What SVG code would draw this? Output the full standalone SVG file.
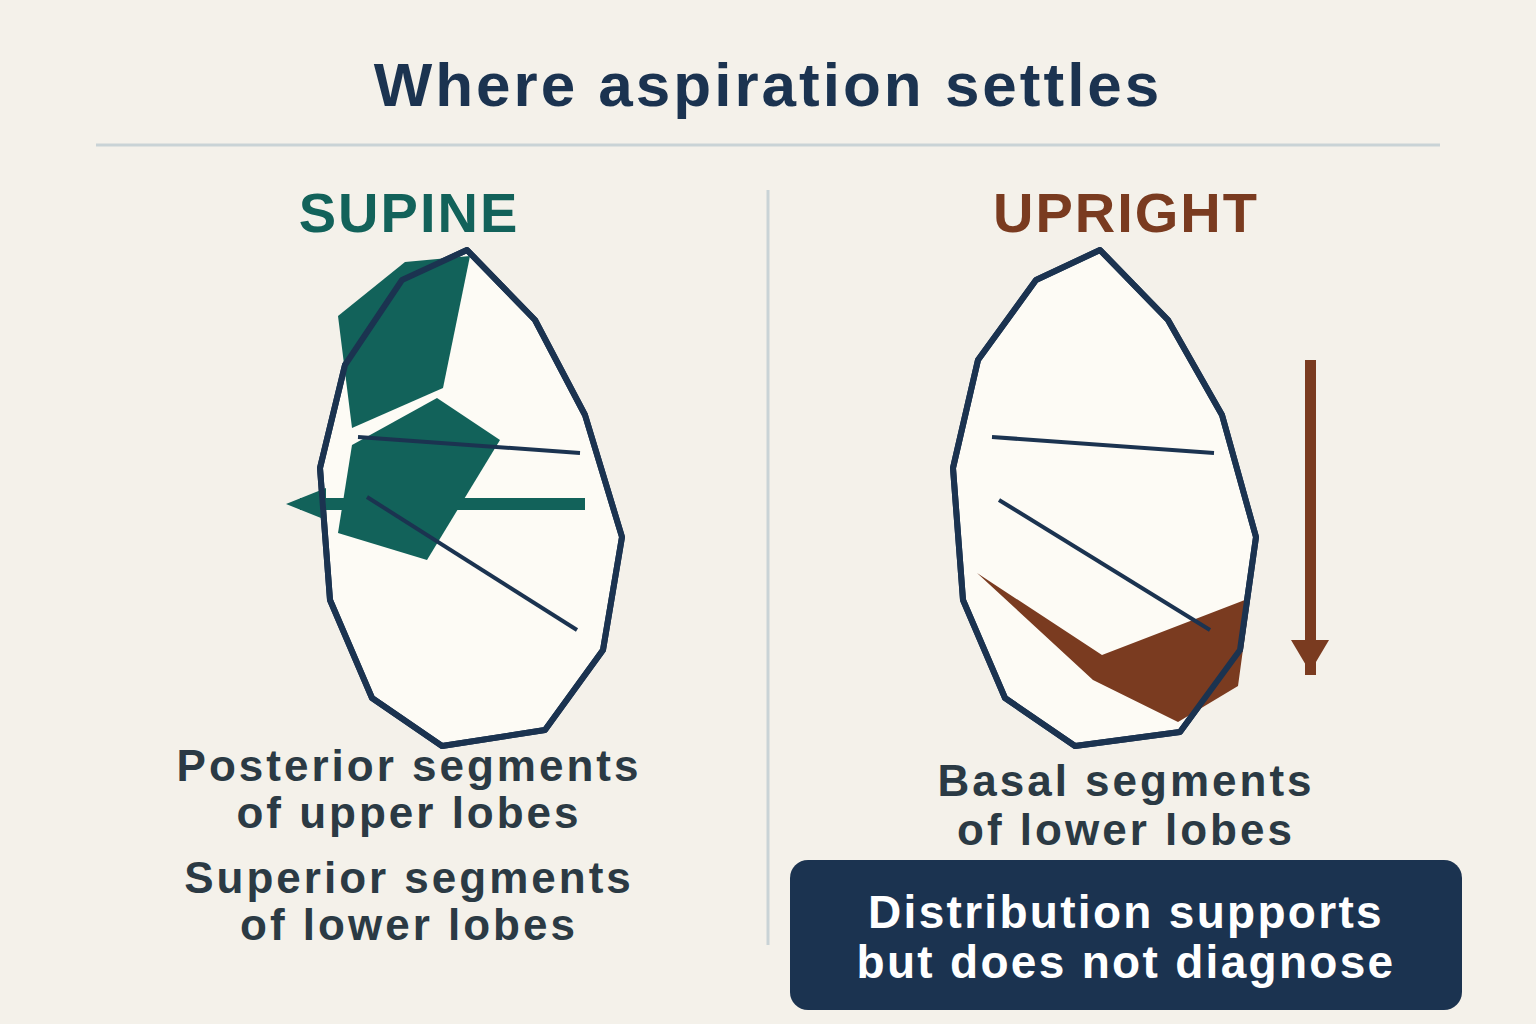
<svg xmlns="http://www.w3.org/2000/svg" width="1536" height="1024" viewBox="0 0 1536 1024">
<style>
text{font-family:"Liberation Sans",Arial,sans-serif;font-weight:bold;text-anchor:middle}
.lung{fill:#fdfbf5;stroke:#1b3350;stroke-width:6;stroke-linejoin:round}
.outl{fill:none;stroke:#1b3350;stroke-width:6;stroke-linejoin:round}
.fis{stroke:#1b3350;stroke-width:4}
.lbl{font-size:44px;fill:#2b3a44;letter-spacing:3px}
</style>
<rect width="1536" height="1024" fill="#f4f1ea"/>
<text x="768" y="106" font-size="62" fill="#1b3350" letter-spacing="3">Where aspiration settles</text>
<line x1="96" y1="145" x2="1440" y2="145" stroke="#c9d3d6" stroke-width="3"/>
<line x1="768" y1="190" x2="768" y2="945" stroke="#c9d3d6" stroke-width="3"/>
<g id="supine">
<text x="409" y="232" font-size="56" fill="#12625a" letter-spacing="2">SUPINE</text>
<polygon class="lung" points="467,250 535,320 585,415 622,537 603,650 545,730 442,746 372,698 330,600 320,468 345,365 402,280"/>
<polygon fill="#12625a" points="338,316 405,262 470,256 443,388 352,428"/>
<polygon fill="#12625a" points="352,445 437,398 500,440 427,560 338,533"/>
<rect x="300" y="498" width="285" height="12" fill="#12625a"/>
<polygon fill="#12625a" points="286,504 326,488 326,520"/>
<line class="fis" x1="358" y1="437" x2="580" y2="453"/>
<line class="fis" x1="367" y1="497" x2="577" y2="630"/>
<polygon class="outl" points="467,250 535,320 585,415 622,537 603,650 545,730 442,746 372,698 330,600 320,468 345,365 402,280"/>
<text class="lbl" x="409" y="781">Posterior segments</text>
<text class="lbl" x="409" y="828">of upper lobes</text>
<text class="lbl" x="409" y="893">Superior segments</text>
<text class="lbl" x="409" y="940">of lower lobes</text>
</g>
<g id="upright">
<text x="1126" y="232" font-size="56" fill="#7a3b20" letter-spacing="2">UPRIGHT</text>
<polygon class="lung" points="1100,250 1168,320 1222,415 1256,537 1240,650 1180,732 1075,746 1005,698 963,600 953,468 978,360 1036,280"/>
<polygon fill="#7a3b20" points="977,573 1102,655 1250,598 1238,686 1178,722 1093,680"/>
<line class="fis" x1="992" y1="437" x2="1214" y2="453"/>
<line class="fis" x1="999" y1="500" x2="1210" y2="630"/>
<polygon class="outl" points="1100,250 1168,320 1222,415 1256,537 1240,650 1180,732 1075,746 1005,698 963,600 953,468 978,360 1036,280"/>
<rect x="1305" y="360" width="11" height="315" fill="#7a3b20"/>
<polygon fill="#7a3b20" points="1291,640 1329,640 1310,672"/>
<text class="lbl" x="1126" y="796">Basal segments</text>
<text class="lbl" x="1126" y="845">of lower lobes</text>
</g>
<g id="note">
<rect x="790" y="860" width="672" height="150" rx="18" fill="#1b3350"/>
<text x="1126" y="928" font-size="46" fill="#ffffff" letter-spacing="2.3">Distribution supports</text>
<text x="1126" y="978" font-size="46" fill="#ffffff" letter-spacing="2.3">but does not diagnose</text>
</g>
<g id="connectors"/>
</svg>
